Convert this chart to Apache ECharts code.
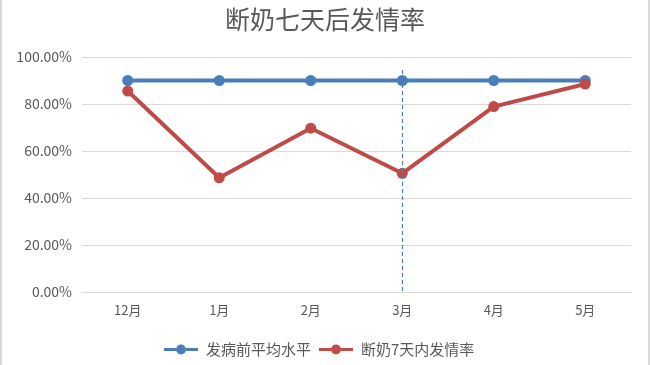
<!DOCTYPE html>
<html><head><meta charset="utf-8">
<script src="https://cdn.jsdelivr.net/npm/echarts@6/dist/echarts.min.js"></script>
<style>
html,body{margin:0;padding:0;background:#fff;}
#c{width:646px;height:365px;border-left:2px solid #d9d9d9;border-right:2px solid #d9d9d9;}
</style></head>
<body><div id="c"></div>
<script>
const titleText = '断奶七天后发情率';
const categories = ['12月','1月','2月','3月','4月','5月'];
const baselineName = '发病前平均水平';
const baselineValues = [0.90,0.90,0.90,0.90,0.90,0.90];
const rateName = '断奶7天内发情率';
const rateValues = [0.855,0.486,0.697,0.505,0.789,0.885];
const markCategory = '3月';
const markTop = 0.945;
const markBottom = 0;

const font = '"Noto Sans CJK SC", "Noto Sans", sans-serif';
const legendIcon = 'path://M0,3.5h12v3h-12z M22,3.5h12v3h-12z M12,5a5,5 0 1,0 10,0a5,5 0 1,0 -10,0z';
const chart = echarts.init(document.getElementById('c'));
chart.setOption({
  animation:false,
  title:{text:titleText,left:'center',top:2,textStyle:{fontFamily:font,fontSize:25,fontWeight:'normal',color:'#595959'}},
  grid:{left:80,right:17,top:57,bottom:73,containLabel:false},
  legend:{bottom:3,left:157,itemWidth:34,itemHeight:10,itemGap:8,
    textStyle:{fontFamily:font,fontSize:15,color:'#595959',padding:[0,0,0,3]},
    data:[{name:baselineName,icon:legendIcon},{name:rateName,icon:legendIcon}]},
  xAxis:{type:'category',data:categories,boundaryGap:true,
    axisLine:{lineStyle:{color:'#d9d9d9'}},axisTick:{show:false},
    axisLabel:{fontFamily:font,fontSize:13,color:'#595959',margin:12}},
  yAxis:{type:'value',min:0,max:1,interval:0.2,
    axisLabel:{fontFamily:font,fontSize:14,color:'#595959',margin:10,formatter:v=>(v*100).toFixed(2)+'%'},
    splitLine:{lineStyle:{color:'#d9d9d9',width:1}},axisLine:{show:false},axisTick:{show:false}},
  series:[
    {name:baselineName,type:'line',data:baselineValues,symbol:'circle',symbolSize:11,
      lineStyle:{color:'#4a7ebb',width:4},itemStyle:{color:'#4a7ebb'},
      markLine:{silent:true,symbol:'none',label:{show:false},
        lineStyle:{color:'#4a7ebb',type:[4,3],width:1.2},
        data:[[{coord:[markCategory,markTop]},{coord:[markCategory,markBottom]}]]}},
    {name:rateName,type:'line',data:rateValues,symbol:'circle',symbolSize:11,z:3,
      lineStyle:{color:'#be4b48',width:4},itemStyle:{color:'#be4b48'}}
  ]
});
</script></body></html>
